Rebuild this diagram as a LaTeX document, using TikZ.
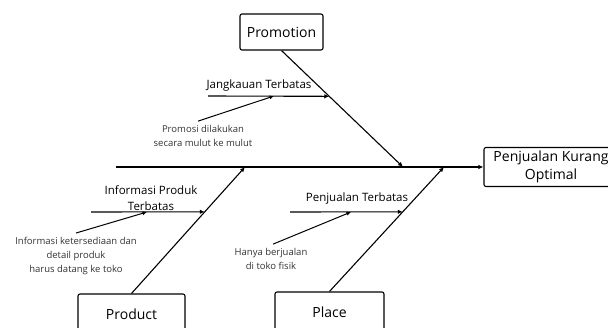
\documentclass[tikz,border=0pt]{standalone}
\usepackage{fontspec}
\setmainfont{Open Sans}
\usetikzlibrary{arrows.meta,calc,positioning}
\tikzset{
  catbox/.style={rectangle,rounded corners=2pt,draw,line width=1.1pt,
    font=\fontsize{14}{18}\selectfont,inner sep=0pt,align=center},
  bone/.style={-{Latex[length=5pt,width=4.5pt]},line width=1.1pt},
  twig/.style={-{Latex[length=4.5pt,width=4pt]},line width=1pt},
  cause/.style={font=\fontsize{11.5}{16}\selectfont,align=center,inner sep=0pt},
  detail/.style={font=\fontsize{9.5}{14}\selectfont,align=center,inner sep=0pt,
    text=black!80}
}

\begin{document}
\begin{tikzpicture}[x=1pt,y=-1pt]
  \useasboundingbox (0,0) rectangle (608,327);
  % categories and effect
  \node[catbox,minimum width=83pt,minimum height=36pt] (promo) at (281.5,32) {Promotion};
  \node[catbox,minimum width=107pt,minimum height=40pt] (product) at (131.5,314) {Product};
  \node[catbox,minimum width=109pt,minimum height=40pt] (place) at (329.5,312) {Place};
  \node[catbox,minimum width=134pt,minimum height=39pt] (effect) at (551,167) {Penjualan Kurang\\Optimal};

  % spine and main bones
  \coordinate (tail) at (116,167);
  \coordinate (pm) at (403,167);
  \coordinate (pd) at (245,167);
  \coordinate (pl) at (444,167);
  \draw[bone] (tail) -- (effect.west);
  \draw[bone] (promo.south) -- (pm);
  \draw[bone] (product.north) -- (pd);
  \draw[bone] (place.north) -- (pl);

  % causes
  \coordinate (j0) at (208,96);
  \coordinate (j1) at ($(promo.south)!0.393!(pm)$);
  \coordinate (i0) at (91,212);
  \coordinate (i1) at ($(product.north)!0.6457!(pd)$);
  \coordinate (s0) at (290,212);
  \coordinate (s1) at ($(place.north)!0.64!(pl)$);
  \draw[bone] (j0) -- (j1);
  \draw[bone] (i0) -- (i1);
  \draw[bone] (s0) -- (s1);
  \node[cause] (jlab) at (259,86) {Jangkauan Terbatas};
  \node[cause] (ilab) at (151,198) {Informasi Produk\\Terbatas};
  \node[cause] (slab) at (357,199) {Penjualan Terbatas};

  % sub-causes
  \node[detail] (jdesc) at (203,136) {Promosi dilakukan\\secara mulut ke mulut};
  \node[detail] (idesc) at (76,256) {Informasi ketersediaan dan\\detail produk\\harus datang ke toko};
  \node[detail] (sdesc) at (271,259) {Hanya berjualan\\di toko fisik};
  \coordinate (jt) at (274,96);
  \coordinate (it) at (147,212);
  \coordinate (st) at (351,212);
  \draw[twig] ([xshift=-5pt,yshift=4pt]jdesc.north) -- (jt);
  \draw[twig] ([yshift=4pt]idesc.north) -- (it);
  \draw[twig] ([xshift=2pt,yshift=4pt]sdesc.north) -- (st);
\end{tikzpicture}
\end{document}
